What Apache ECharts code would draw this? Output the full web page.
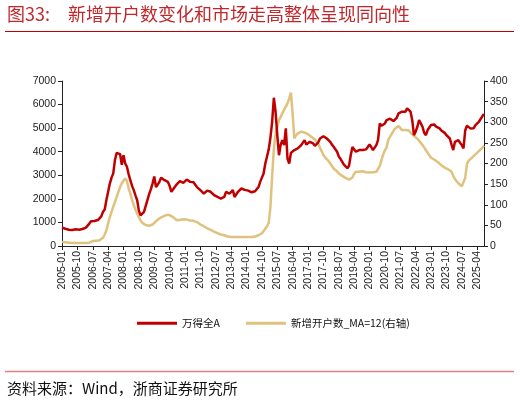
<!DOCTYPE html>
<html>
<head>
<meta charset="utf-8">
<script src="https://cdn.jsdelivr.net/npm/echarts@6/dist/echarts.min.js"></script>
<style>
  html, body { margin: 0; padding: 0; background: #fff; }
  #chart { width: 520px; height: 403px; }
</style>
</head>
<body>
<div id="chart"></div>
<script>
// 月份：2005-01 ~ 2025-08
const months = [];
for (let y = 2005; y <= 2025; y++) {
  for (let m = 1; m <= 12; m++) {
    if (y === 2025 && m > 8) break;
    months.push(y + '-' + (m < 10 ? '0' + m : m));
  }
}

// 万得全A（左轴）
const windA = [
  780, 760, 730, 720, 690, 670, 680, 690, 710, 680, 690, 700,         // 2005
  720, 760, 780, 820, 950, 1050, 1080, 1060, 1080, 1100, 1150, 1260,  // 2006
  1450, 1550, 1950, 2300, 2650, 2900, 3080, 3650, 3950, 3990, 3900, 3450, // 2007
  3850, 3500, 3360, 3050, 2790, 2550, 2370, 2150, 1940, 1500, 1300, 1320, // 2008
  1450, 1700, 1950, 2200, 2400, 2650, 2950, 2500, 2600, 2720, 2900, 2850, // 2009
  2790, 2750, 2720, 2550, 2300, 2225, 2500, 2600, 2650, 2750, 2820, 2680, // 2010
  2750, 2820, 2780, 2720, 2720, 2700, 2600, 2500, 2420, 2370, 2300, 2225, // 2011
  2300, 2350, 2380, 2300, 2250, 2155, 2100, 2080, 2050, 2010, 2000, 2080, // 2012
  2300, 2350, 2225, 2250, 2370, 2080, 2150, 2300, 2350, 2440, 2400, 2380, // 2013
  2370, 2350, 2300, 2280, 2300, 2320, 2370, 2500, 2720, 2900, 3077, 3500, // 2014
  3800, 4100, 4600, 5270, 6290, 5700, 4700, 3850, 4300, 4490, 4280, 4990, // 2015
  3700, 3500, 3950, 4000, 4070, 4100, 4140, 4200, 4280, 4350, 4490, 4300, // 2016
  4380, 4420, 4400, 4350, 4250, 4210, 4400, 4560, 4620, 4660, 4600, 4560, // 2017
  4500, 4420, 4300, 4210, 4100, 4000, 3800, 3700, 3640, 3450, 3400, 3300, // 2018
  3400, 3850, 4200, 4250, 4000, 4000, 4070, 4000, 4070, 4050, 4100, 4200, // 2019
  4310, 4200, 4070, 4150, 4280, 4500, 5200, 5100, 5060, 5200, 5340, 5270, // 2020
  5400, 5410, 5300, 5270, 5450, 5630, 5650, 5700, 5630, 5700, 5840, 5910, // 2021
  5700, 5340, 4700, 4850, 5060, 5340, 5200, 5060, 4800, 4700, 4920, 5000, // 2022
  5130, 5200, 5150, 5060, 5000, 4990, 4900, 4850, 4800, 4700, 4650, 4560, // 2023
  4300, 4070, 4420, 4450, 4490, 4380, 4280, 4140, 4900, 5100, 5130, 4990, // 2024
  5000, 5000, 5130, 5060, 5270, 5300, 5500, 5600                          // 2025
];

// 新增开户数_MA=12（右轴，万户）
const newAccountsMA12 = [
  10, 9, 9, 8, 8, 7, 7, 7, 7, 7, 7, 7,                 // 2005
  7, 7, 7, 8, 8, 10, 12, 13, 13, 14, 14, 15,           // 2006
  20, 28, 38, 55, 70, 83, 95, 107, 119, 131, 143, 152, // 2007
  158, 164, 157, 140, 127, 112, 99, 88, 79, 70, 62, 56, // 2008
  53, 51, 49, 49, 49, 52, 55, 60, 64, 67, 69, 71,      // 2009
  73, 75, 75, 75, 74, 70, 66, 63, 62, 63, 64, 65,      // 2010
  65, 64, 63, 62, 62, 61, 60, 58, 56, 52, 50, 48,      // 2011
  46, 43, 41, 39, 37, 35, 33, 31, 30, 28, 27, 26,      // 2012
  24, 23, 22, 22, 22, 22, 22, 22, 22, 22, 22, 22,      // 2013
  22, 22, 22, 22, 22, 23, 24, 26, 28, 31, 36, 42,      // 2014
  48, 56, 95, 170, 235, 272, 290, 305, 313, 322, 330, 338, // 2015
  346, 358, 372, 320, 261, 268, 273, 277, 277, 276, 275, 272, // 2016
  271, 269, 265, 261, 258, 255, 248, 238, 230, 220, 215, 212, // 2017
  206, 200, 194, 188, 185, 181, 176, 173, 170, 167, 165, 163, // 2018
  161, 160, 166, 175, 180, 180, 180, 181, 181, 180, 179, 178, // 2019
  178, 178, 179, 179, 180, 183, 194, 208, 222, 232, 239, 258, // 2020
  262, 272, 279, 285, 289, 291, 291, 281, 280, 281, 282, 280, // 2021
  275, 271, 267, 263, 260, 257, 250, 245, 239, 232, 226, 220, // 2022
  214, 212, 209, 205, 203, 200, 196, 194, 190, 188, 186, 184, // 2023
  180, 170, 162, 157, 152, 148, 145, 141, 165, 198, 207, 211, // 2024
  214, 218, 222, 226, 230, 234, 238, 243                       // 2025
];

const leftTicks = { min: 0, max: 7000, interval: 1000 };
const rightTicks = { min: 0, max: 400, interval: 50 };

const RED = '#c00000';
const GOLD = '#dfc27d';
const axisFont = { fontFamily: 'Liberation Sans, Arial', fontSize: 10.5, color: '#222' };
const plain = v => String(v); // 不要千分位

const chart = echarts.init(document.getElementById('chart'), null, { renderer: 'canvas' });

const option = {
  animation: false,
  backgroundColor: '#fff',
  grid: { left: 62, right: 36, top: 81, bottom: 157 },
  graphic: [
    { type: 'text', left: 7, top: 5,
      style: { text: '图33:', fill: '#c0282d', font: '18px "Noto Sans CJK SC"' } },
    { type: 'text', left: 68, top: 5,
      style: { text: '新增开户数变化和市场走高整体呈现同向性', fill: '#c0282d', font: '18px "Noto Sans CJK SC"' } },
    { type: 'line', shape: { x1: 5, y1: 31.5, x2: 514, y2: 31.5 },
      style: { stroke: '#c00000', lineWidth: 1 } },
    { type: 'line', shape: { x1: 5, y1: 371.5, x2: 514, y2: 371.5 },
      style: { stroke: '#e08080', lineWidth: 1.5 } },
    { type: 'text', left: 7, top: 381,
      style: { text: '资料来源：Wind，浙商证券研究所', fill: '#111', font: '15px "Noto Sans CJK SC"' } }
  ],
  legend: {
    left: 132, top: 313,
    itemWidth: 40, itemHeight: 3, itemGap: 26,
    icon: 'rect',
    textStyle: { fontFamily: 'Noto Sans CJK SC', fontSize: 10.5, color: '#111' },
    data: ['万得全A', '新增开户数_MA=12(右轴)']
  },
  xAxis: {
    type: 'category',
    data: months,
    boundaryGap: false,
    axisLine: { lineStyle: { color: '#222', width: 1 } },
    axisTick: { interval: 8, length: 4, lineStyle: { color: '#222' } },
    axisLabel: Object.assign({ interval: 8, rotate: 90, margin: 5 }, axisFont),
    splitLine: { show: false }
  },
  yAxis: [
    Object.assign({
      type: 'value',
      position: 'left',
      axisLine: { show: true, lineStyle: { color: '#222', width: 1 } },
      axisTick: { show: true, length: 4, lineStyle: { color: '#222' } },
      axisLabel: Object.assign({ margin: 6, formatter: plain }, axisFont),
      splitLine: { show: false }
    }, leftTicks),
    Object.assign({
      type: 'value',
      position: 'right',
      axisLine: { show: true, lineStyle: { color: '#222', width: 1 } },
      axisTick: { show: true, length: 4, lineStyle: { color: '#222' } },
      axisLabel: Object.assign({ margin: 6, formatter: plain }, axisFont),
      splitLine: { show: false }
    }, rightTicks)
  ],
  series: [
    {
      name: '万得全A',
      type: 'line',
      yAxisIndex: 0,
      data: windA,
      showSymbol: false,
      symbol: 'none',
      lineStyle: { color: RED, width: 2.5 },
      itemStyle: { color: RED },
      z: 3
    },
    {
      name: '新增开户数_MA=12(右轴)',
      type: 'line',
      yAxisIndex: 1,
      data: newAccountsMA12,
      showSymbol: false,
      symbol: 'none',
      lineStyle: { color: GOLD, width: 2.5 },
      itemStyle: { color: GOLD },
      z: 2
    }
  ]
};

chart.setOption(option);
</script>
</body>
</html>
